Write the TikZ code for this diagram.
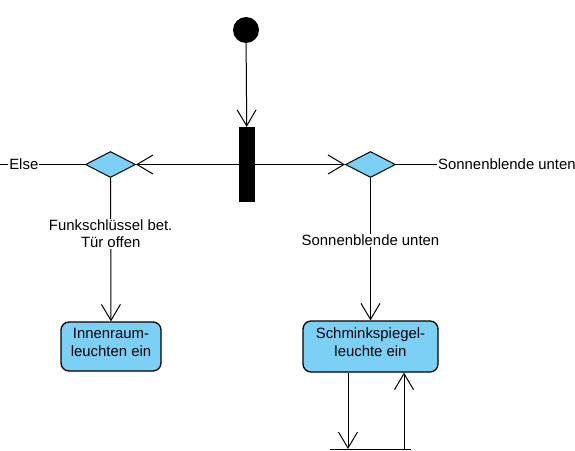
\documentclass[tikz,border=0pt]{standalone}
\usepackage{fontspec}
\setmainfont{Liberation Sans}
\usetikzlibrary{shapes.geometric,arrows.meta}
\definecolor{actblue}{RGB}{124,207,245}
\tikzset{
  action/.style={draw, rounded corners=8pt, fill=actblue, line width=1.3pt, align=center, inner sep=1pt},
  choice/.style={draw, diamond, fill=actblue, line width=1pt, minimum width=50pt, minimum height=26pt, inner sep=0pt},
  flow/.style={line width=1pt, -{Straight Barb[length=16pt,width=19pt,line width=1pt]}},
  guard/.style={fill=white, inner sep=1pt, align=center}
}

\begin{document}
\begin{tikzpicture}[x=1pt, y=-1pt, font=\fontsize{14.9}{17.5}\selectfont]
\useasboundingbox (0, 0) rectangle (575, 450);
\clip (0, 0) rectangle (575, 450);

\node[circle, fill=black, minimum size=26pt, inner sep=0pt] (start) at (246, 30) {};
\node[fill=black, minimum width=16pt, minimum height=75pt, inner sep=0pt] (fork) at (247, 164.5) {};
\node[choice] (left) at (110.5, 164.5) {};
\node[choice] (right) at (370.5, 164.5) {};
\node[action, minimum width=100pt, minimum height=49pt] (innen) at (111, 346.5)
  {Innenraum-\\leuchten ein\\[-9pt]};
\node[action, minimum width=135pt, minimum height=51pt] (spiegel) at (370.5, 346.5)
  {Schminkspiegel-\\leuchte ein\\[-9pt]};

\draw[flow] (start) -- (fork);
\draw[flow] (fork) -- (left);
\draw[flow] (fork) -- (right);

% else branches
\coordinate (elseL) at (0, 164.5);
\draw[line width=1pt] (left.west) -- (elseL) node[guard, pos=0.72] {Else};
\node[guard, anchor=west] (elseR) at (437, 164.5) {Sonnenblende unten};
\draw[line width=1pt] (right.east) -- (elseR.west);

\draw[flow] (left.south) -- (innen.north)
  node[guard, pos=0.39] {Funkschlüssel bet.\\Tür offen};
\draw[flow] (right.south) -- (spiegel.north)
  node[guard, pos=0.44] {Sonnenblende unten};

% bar below the mirror light
\coordinate (barL) at (330, 449);
\coordinate (barR) at (411, 449);
\coordinate (down) at (348, 449);
\coordinate (up) at (404, 449);
\draw[line width=1pt] (barL) -- (barR);
\draw[flow] (spiegel.south -| down) -- (down);
\draw[flow] (up) -- (spiegel.south -| up);
\end{tikzpicture}
\end{document}
